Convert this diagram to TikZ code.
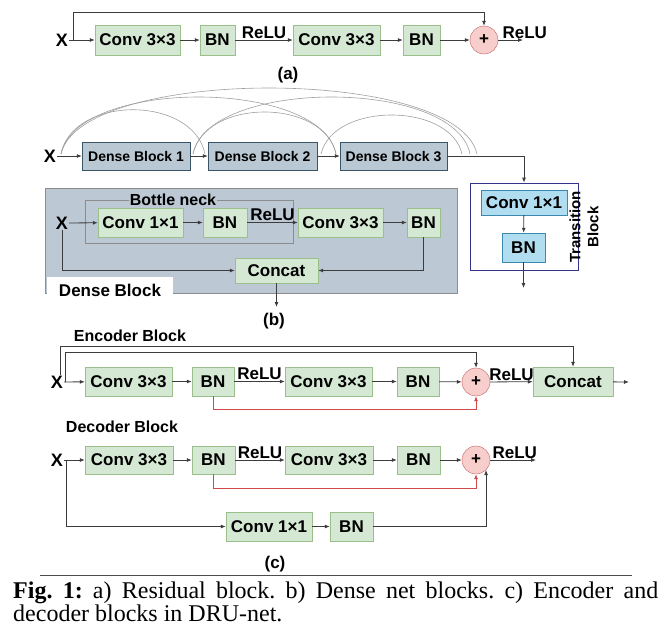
\documentclass[tikz,border=0pt]{standalone}
\usepackage{fontspec}
\setmainfont{Liberation Sans}
\newfontfamily\capfont{Liberation Serif}
\usetikzlibrary{arrows.meta}
\frenchspacing

\definecolor{boxgreen}{HTML}{D5E8D4}
\definecolor{edgegreen}{HTML}{9BBF8A}
\definecolor{sumfill}{HTML}{F8CECC}
\definecolor{sumedge}{HTML}{C06060}
\definecolor{densefill}{HTML}{BAC8D3}
\definecolor{denseedge}{HTML}{3A5468}
\definecolor{panelfill}{HTML}{BCC8D4}
\definecolor{paneledge}{HTML}{8C8C8C}
\definecolor{transfill}{HTML}{B1DDF0}
\definecolor{transedge}{HTML}{3A8AB0}
\definecolor{linegray}{HTML}{3C3C3C}
\definecolor{skipred}{HTML}{D04848}
\definecolor{navy}{HTML}{33338C}

\tikzset{
  layer/.style={rectangle, draw=edgegreen, fill=boxgreen, minimum height=29pt, inner sep=0pt, font=\fontsize{17}{19}\selectfont\bfseries},
  tbox/.style={rectangle, draw=transedge, fill=transfill, inner sep=0pt, font=\fontsize{17}{19}\selectfont\bfseries},
  sum/.style={circle, draw=sumedge, fill=sumfill, minimum size=28pt, inner sep=0pt, font=\fontsize{17}{19}\selectfont\bfseries},
  dense/.style={rectangle, draw=denseedge, fill=densefill, minimum height=28pt, minimum width=108pt, inner sep=0pt, font=\fontsize{14}{16}\selectfont\bfseries},
  lbl/.style={inner sep=1pt, font=\fontsize{17}{19}\selectfont\bfseries},
  sublbl/.style={inner sep=1pt, font=\fontsize{16}{18}\selectfont\bfseries},
  xin/.style={inner sep=1pt, font=\fontsize{18}{20}\selectfont\bfseries},
  arr/.style={draw=linegray, line width=0.8pt, -{Latex[length=5pt,width=4pt]}},
  skip/.style={draw=skipred, line width=0.8pt, -{Latex[length=5pt,width=4pt]}},
  dskip/.style={draw=gray!75, line width=0.6pt},
}

\begin{document}
\begin{tikzpicture}[x=1pt, y=-1pt]
    \useasboundingbox (0,0) rectangle (669,633);

    % (a) residual block
    \node[xin] (xa) at (62,40) {X};
    \coordinate (ja) at (73,40);
    \node[layer, minimum width=85pt, minimum height=30pt] (acv1) at (137.5,40) {Conv 3×3};
    \node[layer, minimum width=35pt, minimum height=30pt] (abn1) at (217.5,40) {BN};
    \node[layer, minimum width=87pt, minimum height=30pt] (acv2) at (336.5,40) {Conv 3×3};
    \node[layer, minimum width=37pt, minimum height=30pt] (abn2) at (421.5,40) {BN};
    \node[sum] (asum) at (484,40) {+};
    \coordinate (aout) at (523,40);
    \node[lbl] (alab) at (288,75) {(a)};

    \draw[arr] (xa) -- (acv1);
    \draw[arr] (acv1) -- (abn1);
    \draw[arr] (abn1) -- node[lbl, above] {ReLU} (acv2);
    \draw[arr] (acv2) -- (abn2);
    \draw[arr] (abn2) -- (asum);
    \draw[arr] (asum) -- node[lbl, pos=0, anchor=south west, xshift=3pt] {ReLU} (aout);
    \draw[arr] (ja) -- ++(0,-28) -| (asum);

    % (b) dense net
    \node[xin] (xb) at (50,156) {X};
    \node[dense] (db1) at (136,156) {Dense Block 1};
    \node[dense, minimum width=109pt] (db2) at (262.5,156) {Dense Block 2};
    \node[dense, minimum width=107pt] (db3) at (393.5,156) {Dense Block 3};

    \coordinate (s0) at (61,154);
    \coordinate (s1) at (193,154);
    \coordinate (s2) at (321,154);
    \coordinate (e2) at (205,154);
    \coordinate (e3) at (336,154);
    \coordinate (e4) at (462,154);
    \coordinate (e5) at (470,154);
    \coordinate (e6) at (477,154);
    \draw[dskip] (s0) .. controls +(12,-59) and +(-12,-59) .. (e2);
    \draw[dskip] (s0) .. controls +(15,-76) and +(-15,-76) .. (e3);
    \draw[dskip] (s0) .. controls +(20,-88) and +(-20,-88) .. (e6);
    \draw[dskip] (s1) .. controls +(12,-56) and +(-12,-56) .. (e3);
    \draw[dskip] (s1) .. controls +(15,-76) and +(-15,-76) .. (e5);
    \draw[dskip] (s2) .. controls +(12,-52) and +(-12,-52) .. (e4);

    \draw[arr] (xb) -- (db1);
    \draw[arr] (db1) -- (db2);
    \draw[arr] (db2) -- (db3);

    % transition block
    \node[draw=navy, line width=0.8pt, minimum width=108pt, minimum height=87pt, inner sep=0pt] (trans) at (524,226.5) {};
    \node[tbox, minimum width=86pt, minimum height=25pt] (tcv) at (524,202.5) {Conv 1×1};
    \node[tbox, minimum width=43pt, minimum height=29pt] (tbn) at (523.5,247.5) {BN};
    \coordinate (tout) at (523.5,288);
    \node[rotate=90, align=center, inner sep=0pt, font=\fontsize{15}{18}\selectfont\bfseries] (tlab) at (584,227) {Transition\\Block};

    \draw[arr] (db3) -| (trans.north);
    \draw[arr] (tcv) -- (tbn);
    \draw[arr] (tbn) -- (tout);

    % dense block detail
    \node[draw=paneledge, fill=panelfill, minimum width=412pt, minimum height=105pt, inner sep=0pt] (panel) at (251,240.5) {};
    \node[fill=white, minimum width=126pt, minimum height=26pt, inner sep=0pt, font=\fontsize{17}{19}\selectfont\bfseries] (tab) at (110,290) {Dense Block};
    \node[draw=paneledge, minimum width=208pt, minimum height=43pt, inner sep=0pt] (bneck) at (189,221.5) {};
    \node[sublbl, fill=panelfill] (bnlab) at (173,200) {Bottle neck};

    \node[xin] (xd) at (62,223) {X};
    \node[layer, minimum width=85pt] (dcv1) at (140.5,222.5) {Conv 1×1};
    \node[layer, minimum width=44pt] (dbn1) at (225,222.5) {BN};
    \node[layer, minimum width=85pt] (dcv3) at (340.5,222.5) {Conv 3×3};
    \node[layer, minimum width=33pt] (dbn2) at (423.5,222.5) {BN};
    \node[layer, minimum width=83pt, minimum height=25pt] (dcat) at (276.5,270.5) {Concat};
    \coordinate (dout) at (276.5,307);
    \node[lbl] (blab) at (274,321) {(b)};

    \draw[arr] (xd) -- (dcv1);
    \draw[arr] (dcv1) -- (dbn1);
    \draw[arr] (dbn1) -- node[lbl, above] {ReLU} (dcv3);
    \draw[arr] (dcv3) -- (dbn2);
    \draw[arr] (xd) |- (dcat);
    \draw[arr] (dbn2) |- (dcat);
    \draw[arr] (dcat) -- (dout);

    % (c) encoder block
    \node[sublbl] (elab) at (130,336) {Encoder Block};
    \node[xin] (xe) at (57,382) {X};
    \coordinate (je) at (65,382);
    \node[layer, minimum width=87pt] (ecv1) at (128.5,381.5) {Conv 3×3};
    \node[layer, minimum width=42pt] (ebn1) at (213,381.5) {BN};
    \node[layer, minimum width=87pt] (ecv2) at (328.5,381.5) {Conv 3×3};
    \node[layer, minimum width=42pt] (ebn2) at (418,381.5) {BN};
    \node[sum] (esum) at (476,382) {+};
    \node[layer, minimum width=80pt] (ecat) at (573,381.5) {Concat};
    \coordinate (eout) at (629,382);

    \draw[arr] (xe) -- (ecv1);
    \draw[arr] (ecv1) -- (ebn1);
    \draw[arr] (ebn1) -- node[lbl, above] {ReLU} (ecv2);
    \draw[arr] (ecv2) -- (ebn2);
    \draw[arr] (ebn2) -- (esum);
    \draw[arr] (esum) -- node[lbl, above] {ReLU} (ecat);
    \draw[arr] (ecat) -- (eout);
    \draw[arr] (je) -- ++(0,-30) -| (esum);
    \draw[arr] ([xshift=3pt]xe.north) -- ++(0,-28) -| (ecat);
    \draw[skip] (ebn1) -- ++(0,27.5) -| (esum);

    % (c) decoder block
    \node[sublbl] (klab) at (122,427) {Decoder Block};
    \node[xin] (xk) at (57,460) {X};
    \coordinate (jk) at (66,460);
    \node[layer, minimum width=88pt, minimum height=28pt] (kcv1) at (129,460) {Conv 3×3};
    \node[layer, minimum width=43pt, minimum height=28pt] (kbn1) at (213.5,460) {BN};
    \node[layer, minimum width=88pt, minimum height=28pt] (kcv2) at (329,460) {Conv 3×3};
    \node[layer, minimum width=43pt, minimum height=28pt] (kbn2) at (418.5,460) {BN};
    \node[sum] (ksum) at (476,460) {+};
    \coordinate (kout) at (536,460);
    \node[layer, minimum width=86pt] (kcv3) at (269,526.5) {Conv 1×1};
    \node[layer, minimum width=43pt] (kbn3) at (351.5,526.5) {BN};
    \node[lbl] (clab) at (275,564) {(c)};

    \draw[arr] (xk) -- (kcv1);
    \draw[arr] (kcv1) -- (kbn1);
    \draw[arr] (kbn1) -- node[lbl, above] {ReLU} (kcv2);
    \draw[arr] (kcv2) -- (kbn2);
    \draw[arr] (kbn2) -- (ksum);
    \draw[arr] (ksum) -- node[lbl, pos=0, anchor=south west, xshift=1pt] {ReLU} (kout);
    \draw[skip] (kbn1) -- ++(0,28) -| (ksum);
    \draw[arr] (jk) |- (kcv3);
    \draw[arr] (kcv3) -- (kbn3);
    \draw[arr] (kbn3) -| (ksum.-45);

    % caption
    \draw[gray!60!black, line width=0.7pt] (40,575) -- (632,575);
    \node[anchor=north west, inner sep=0pt, text width=645pt, align=justify, font=\capfont\fontsize{24}{21.5}\selectfont] (capt) at (13,582)
        {\textbf{Fig. 1:} a) Residual block. b) Dense net blocks. c) Encoder and\linebreak decoder blocks in DRU-net.};
\end{tikzpicture}
\end{document}
